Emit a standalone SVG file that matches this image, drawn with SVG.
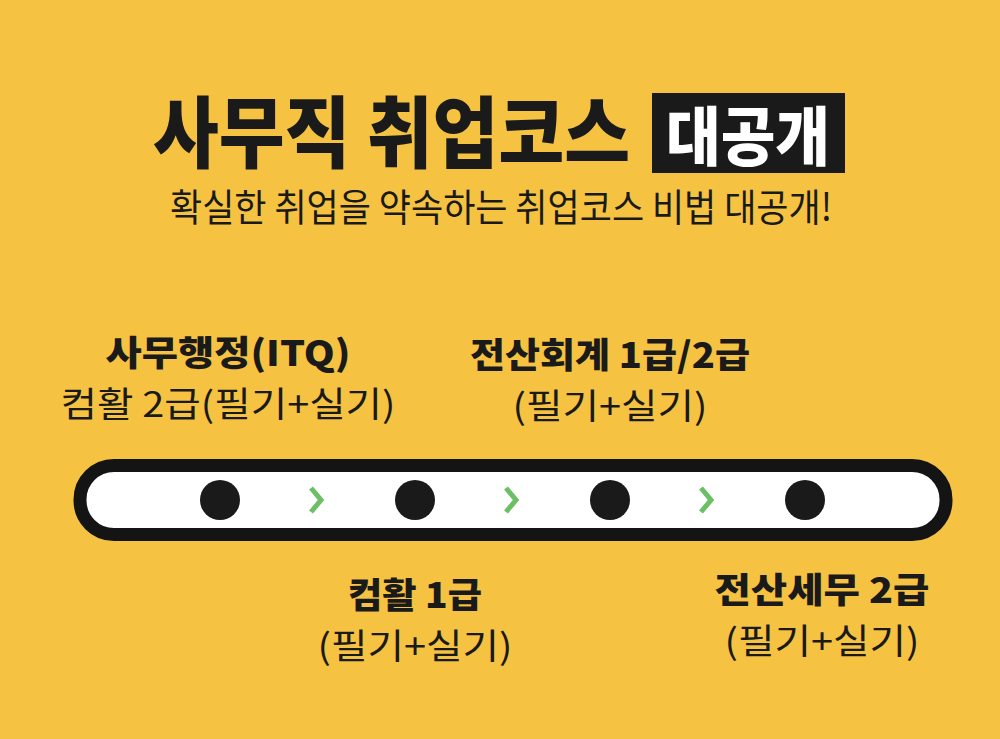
<svg xmlns="http://www.w3.org/2000/svg" width="1000" height="739" viewBox="0 0 1000 739">
<style>
.b{font-family:"Noto Sans CJK KR","Noto Sans",sans-serif;font-weight:900;fill:#1a1a1a;font-size:35px}
.r{font-family:"Noto Sans CJK KR","Noto Sans",sans-serif;font-weight:400;fill:#1a1a1a;font-size:35px}
.dot{fill:#1a1a1a}
.chev{fill:none;stroke:#6cbf64;stroke-width:5}
</style>
<rect width="1000" height="739" fill="#F5C242"/>
<g id="title">
<text class="b" x="153" y="162" style="font-size:78px" textLength="477" lengthAdjust="spacingAndGlyphs">사무직 취업코스</text>
<rect x="652" y="93" width="193" height="80" fill="#1a1a1a"/>
<text class="b" x="748" y="160" text-anchor="middle" style="font-size:64px;fill:#fff" textLength="164" lengthAdjust="spacingAndGlyphs">대공개</text>
<text class="r" x="170" y="221" style="font-size:38px" textLength="662" lengthAdjust="spacingAndGlyphs">확실한 취업을 약속하는 취업코스 비법 대공개!</text>
</g>
<g id="track">
<rect x="80" y="465.5" width="866" height="69" rx="34" ry="34" fill="#fff" stroke="#141414" stroke-width="13"/>
</g>
<g id="connectors">
<polyline class="chev" points="311,488 321,500 311,512"/>
<polyline class="chev" points="506,488 516,500 506,512"/>
<polyline class="chev" points="701,488 711,500 701,512"/>
</g>
<g id="node1">
<circle class="dot" cx="220" cy="500" r="20"/>
<text class="b" x="228" y="366" text-anchor="middle" textLength="245" lengthAdjust="spacingAndGlyphs">사무행정(ITQ)</text>
<text class="r" x="228" y="417" text-anchor="middle" textLength="335" lengthAdjust="spacingAndGlyphs">컴활 2급(필기+실기)</text>
</g>
<g id="node2">
<circle class="dot" cx="415" cy="500" r="20"/>
<text class="b" x="415" y="608" text-anchor="middle" textLength="134" lengthAdjust="spacingAndGlyphs">컴활 1급</text>
<text class="r" x="415" y="659" text-anchor="middle" textLength="195" lengthAdjust="spacingAndGlyphs">(필기+실기)</text>
</g>
<g id="node3">
<circle class="dot" cx="610" cy="500" r="20"/>
<text class="b" x="610" y="368" text-anchor="middle" textLength="280" lengthAdjust="spacingAndGlyphs">전산회계 1급/2급</text>
<text class="r" x="610" y="419" text-anchor="middle" textLength="195" lengthAdjust="spacingAndGlyphs">(필기+실기)</text>
</g>
<g id="node4">
<circle class="dot" cx="805" cy="500" r="20"/>
<text class="b" x="822" y="603" text-anchor="middle" textLength="215" lengthAdjust="spacingAndGlyphs">전산세무 2급</text>
<text class="r" x="822" y="654" text-anchor="middle" textLength="195" lengthAdjust="spacingAndGlyphs">(필기+실기)</text>
</g>
</svg>
